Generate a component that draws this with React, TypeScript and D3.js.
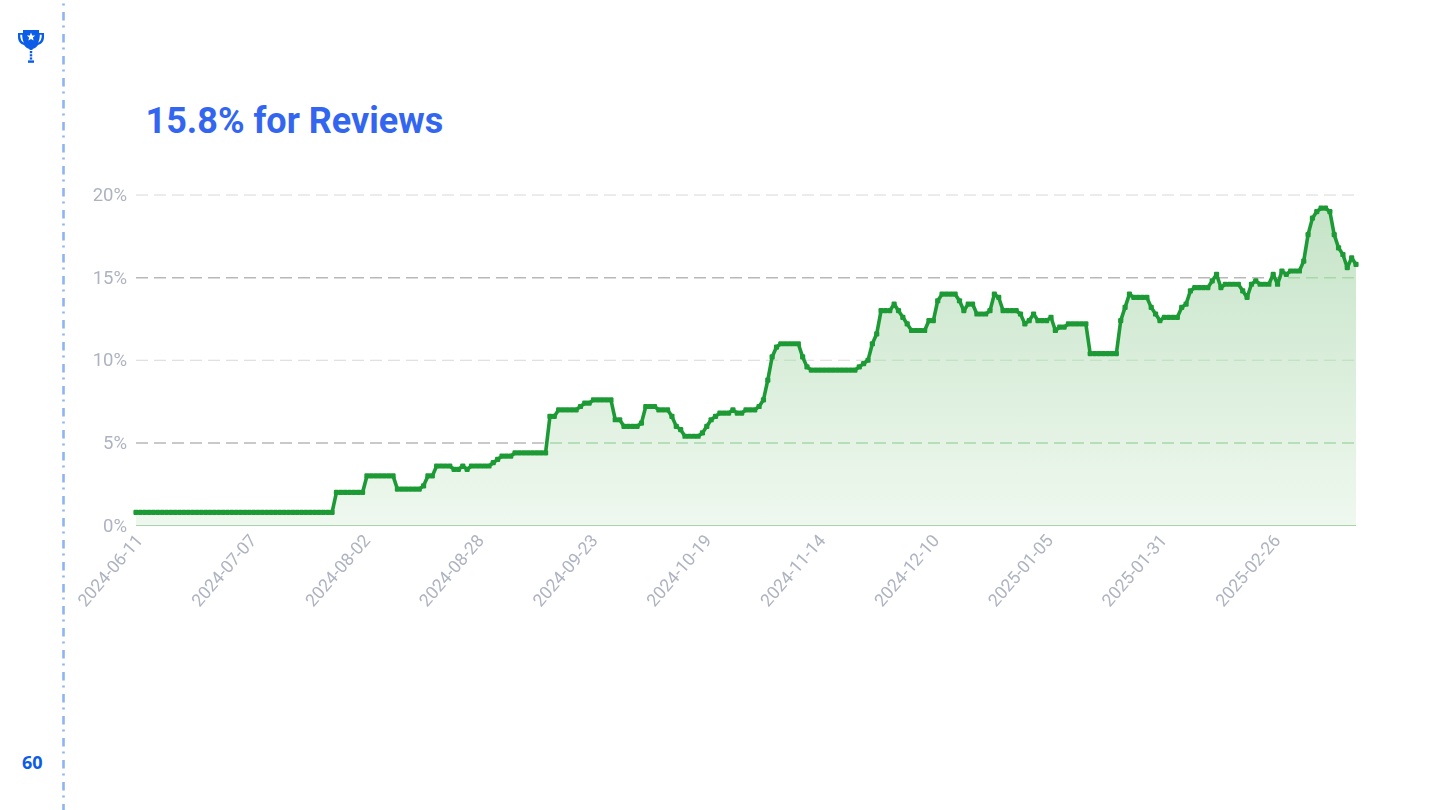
import React from "react";
import * as d3 from "d3";

const title = "15.8% for Reviews";
const pageNumber = "60";
const tickEvery = 26;
const xTickLabels = ["2024-06-11","2024-07-07","2024-08-02","2024-08-28","2024-09-23","2024-10-19","2024-11-14","2024-12-10","2025-01-05","2025-01-31","2025-02-26"];
const yTicks = [0, 5, 10, 15, 20];
const values = [
  0.8,0.8,0.8,0.8,0.8,0.8,0.8,0.8,0.8,0.8,0.8,0.8,0.8,0.8,0.8,
  0.8,0.8,0.8,0.8,0.8,0.8,0.8,0.8,0.8,0.8,0.8,0.8,0.8,0.8,0.8,
  0.8,0.8,0.8,0.8,0.8,0.8,0.8,0.8,0.8,0.8,0.8,0.8,0.8,0.8,0.8,0.8,
  2,2,2,2,2,2,2, 3,3,3,3,3,3,3, 2.2,2.2,2.2,2.2,2.2,2.2, 2.4, 3,3,
  3.6,3.6,3.6,3.6, 3.4,3.4, 3.6, 3.4, 3.6,3.6,3.6,3.6,3.6, 3.8, 4, 4.2,4.2,4.2,
  4.4,4.4,4.4,4.4,4.4,4.4,4.4,4.4, 6.6,6.6, 7,7,7,7,7, 7.2, 7.4,7.4, 7.6,7.6,7.6,7.6,7.6,
  6.4,6.4, 6,6,6,6, 6.2, 7.2,7.2,7.2, 7,7,7, 6.6, 6, 5.8, 5.4,5.4,5.4,5.4, 5.6, 6, 6.4, 6.6,
  6.8,6.8,6.8, 7, 6.8,6.8, 7,7,7, 7.2, 7.6, 8.8, 10.2, 10.8, 11,11,11,11,11, 10.2, 9.6,
  9.4,9.4,9.4,9.4,9.4,9.4,9.4,9.4,9.4,9.4,9.4, 9.6, 9.8, 10, 11, 11.6, 13,13,13, 13.4, 13, 12.6, 12.2,
  11.8,11.8,11.8,11.8, 12.4,12.4, 13.6, 14,14,14,14, 13.6, 13, 13.4,13.4, 12.8,12.8,12.8, 13, 14, 13.8,
  13,13,13,13, 12.8, 12.2, 12.4, 12.8, 12.4,12.4,12.4, 12.6, 11.8, 12,12, 12.2,12.2,12.2,12.2,12.2,
  10.4,10.4,10.4,10.4,10.4,10.4,10.4, 12.4, 13.2, 14, 13.8,13.8,13.8,13.8, 13.2, 12.8, 12.4, 12.6,12.6,12.6,12.6,
  13.2, 13.4, 14.2, 14.4,14.4,14.4,14.4, 14.8, 15.2, 14.4, 14.6,14.6,14.6,14.6, 14.2, 13.8, 14.6, 14.8,
  14.6,14.6,14.6, 15.2, 14.6, 15.4, 15.2, 15.4,15.4,15.4, 16, 17.6, 18.6, 19, 19.2,19.2, 19, 17.6, 16.8, 16.4, 15.6, 16.2, 15.8,
];

const W = 1440, H = 810;
const x = d3.scaleLinear().domain([0, values.length - 1]).range([136, 1356]);
const y = d3.scaleLinear().domain([0, 20]).range([525.5, 195]);
const pts: [number, number][] = values.map((v, i) => [i, v]);
const linePath = d3.line<[number, number]>().x(d => x(d[0])).y(d => y(d[1]))(pts) as string;
const areaPath = d3.area<[number, number]>().x(d => x(d[0])).y0(y(0)).y1(d => y(d[1]))(pts) as string;
const axisFont = "Roboto, sans-serif";
const gridTicks = yTicks.filter(t => t > 0);

export default function App() {
  return (
    <svg width={W} height={H} viewBox={`0 0 ${W} ${H}`} style={{ position: "absolute", left: 0, top: 0, display: "block", background: "#fff" }}>
      <defs>
        <linearGradient id="fillG" gradientUnits="userSpaceOnUse" x1="0" x2="0" y1={y(20)} y2={y(0)}>
          <stop offset="0" stopColor="#c4e3c6" />
          <stop offset="1" stopColor="#eff8ef" />
        </linearGradient>
        <filter id="soft" x="-10%" y="-10%" width="120%" height="120%">
          <feGaussianBlur stdDeviation="0.45" />
        </filter>
        <filter id="softLine" filterUnits="userSpaceOnUse" x="120" y="180" width="1260" height="360">
          <feGaussianBlur stdDeviation="0.35" />
        </filter>
        <clipPath id="areaClip"><path d={areaPath} /></clipPath>
      </defs>

      <line x1={63.5} x2={63.5} y1={0} y2={H} stroke="#8fb3f3" strokeWidth={2.6} strokeDasharray="8.5 5 2 6.5" strokeDashoffset={-12} />

      <g transform="translate(18,29)" fill="#0b5ce6">
        <path d="M5 1H21V4H26V8C26 12.5 23.5 15 20 16C18.5 18.5 16.5 19.5 14.5 20V21H11.5V20C9.5 19.5 7.5 18.5 6 16C2.5 15 0 12.5 0 8V4H5Z" />
        <rect x="11.8" y="22" width="2.4" height="2.2" />
        <rect x="11.8" y="25.2" width="2.4" height="2.2" />
        <rect x="11.8" y="28.4" width="2.4" height="2.2" />
        <rect x="10" y="31.4" width="6" height="2.4" />
        <path d="M13 3.6L14.2 6.4L17.2 6.6L14.9 8.6L15.6 11.5L13 9.9L10.4 11.5L11.1 8.6L8.8 6.6L11.8 6.4Z" fill="#fff" />
        <path d="M2.2 5.8H4.2C4.2 9 4.8 11.2 5.8 13.8C3.4 12.6 2.2 10 2.2 5.8ZM23.8 5.8H21.8C21.8 9 21.2 11.2 20.2 13.8C22.6 12.6 23.8 10 23.8 5.8Z" fill="#fff" />
      </g>

      <text x={145.5} y={133} fontFamily={axisFont} fontWeight={700} fontSize={36} fill="#3366f0">{title}</text>
      <text x={22} y={769} fontFamily="'Open Sans', sans-serif" fontWeight={700} fontSize={18} fill="#0b5ce6">{pageNumber}</text>

      {gridTicks.map(t => (
        <line key={t} x1={136} x2={1356} y1={y(t)} y2={y(t)}
          stroke={t % 10 === 0 ? "#d8d8d8" : "#b8b8b8"} strokeWidth={t % 10 === 0 ? 1 : 1.5}
          strokeDasharray="12 6" />
      ))}

      <path d={areaPath} fill="url(#fillG)" />

      <g clipPath="url(#areaClip)">
        {gridTicks.map(t => (
          <line key={t} x1={136} x2={1356} y1={y(t)} y2={y(t)}
            stroke={t % 10 === 0 ? "#b9dfbb" : "#a6d8aa"} strokeWidth={t % 10 === 0 ? 1 : 1.5}
            strokeDasharray="12 6" />
        ))}
      </g>
      <line x1={136} x2={1356} y1={y(0)} y2={y(0)} stroke="#a9d3ab" strokeWidth={1} />

      <g filter="url(#soft)" fontFamily={axisFont} fill="#aeb3c2">
        {yTicks.map(t => (
          <text key={t} x={127} y={y(t) + 6} textAnchor="end" fontSize={18.5}>{t}%</text>
        ))}
        {xTickLabels.map((d, i) => {
          const px = x(i * tickEvery) + 3 + 0.5 * i;
          const py = 537;
          return <text key={d} transform={`translate(${px},${py}) rotate(-49)`} textAnchor="end" dy="0.35em" fontSize={17.5}>{d}</text>;
        })}
      </g>

      <g filter="url(#softLine)">
        <path d={linePath} fill="none" stroke="#1f9a34" strokeWidth={3.6} strokeLinejoin="round" />
        {pts.map(d => (
          <rect key={d[0]} x={x(d[0]) - 2.6} y={y(d[1]) - 2.6} width={5.2} height={5.2} rx={1.2} fill="#1f9a34" />
        ))}
      </g>
    </svg>
  );
}
